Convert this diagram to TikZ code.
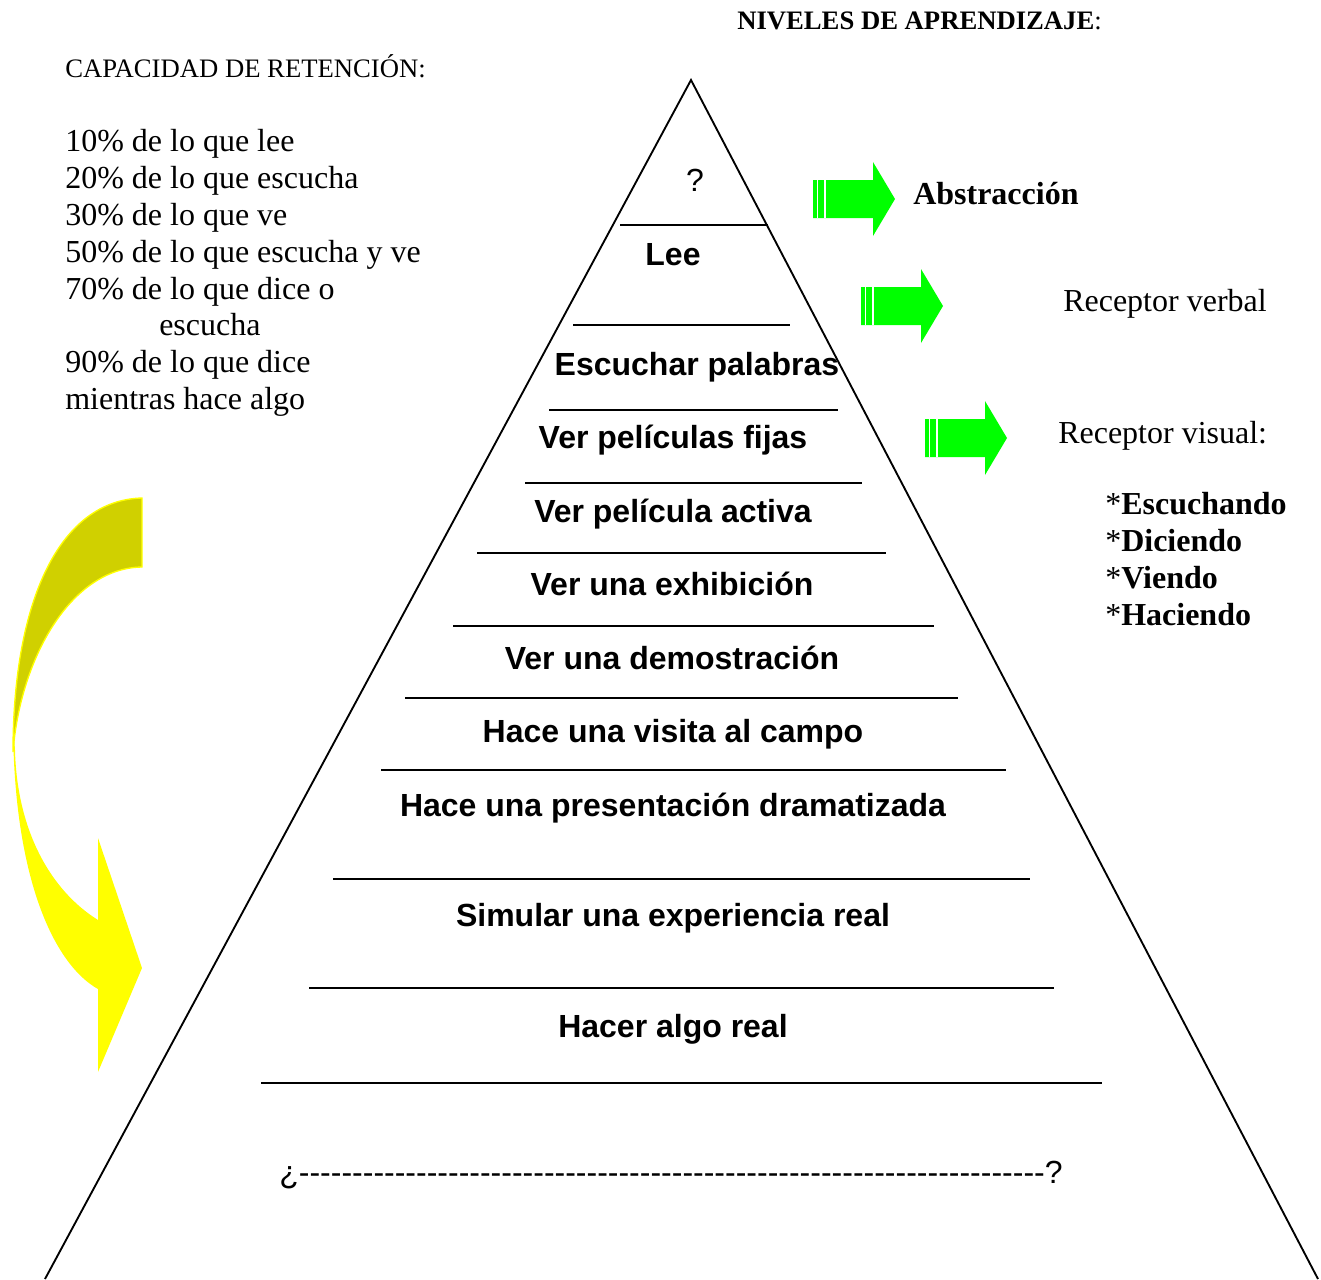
\documentclass[tikz,border=0pt]{standalone}
\usepackage{fontspec}
\setmainfont{Liberation Serif}
\newfontfamily\arialfont{Liberation Sans}
\definecolor{arrowgreen}{HTML}{00FF00}
\definecolor{curlyellow}{HTML}{FFFF00}
\definecolor{curlolive}{HTML}{D0D000}
\newcommand{\dashrow}{\foreach \k in {1,...,70}{\hbox{-}}}

\begin{document}
\begin{tikzpicture}[x=0.75pt, y=-0.75pt,
      lvl/.style={font=\arialfont\bfseries\fontsize{24}{28}\selectfont, anchor=base, inner sep=0pt},
      note/.style={font=\fontsize{24}{28}\selectfont, anchor=base west, inner sep=0pt},
      tier/.style={line width=1.4pt},
      greenarrow/.style={fill=arrowgreen, draw=none}]
    \useasboundingbox (0,0) rectangle (1321,1279);
    % pyramid
    \coordinate (apex) at (691,80);
    \coordinate (baseL) at (45,1279);
    \coordinate (baseR) at (1318,1279);
    \draw[tier] (baseL) -- (apex) -- (baseR);
    \foreach \y/\xa/\xb in {225/620/768, 325/573/790, 410/549/838, 483/525/862,
        553/477/886, 626/453/934, 698/405/958, 770/381/1006, 879/333/1030,
        988/309/1054, 1083/261/1102}
      \draw[tier] (\xa,\y) -- (\xb,\y);
    \node[lvl, font=\arialfont\fontsize{24}{28}\selectfont] (cima) at (695,191) {?};
    \node[lvl] (lee) at (673,265) {Lee};
    \node[lvl] (escuchar) at (697,375) {Escuchar palabras};
    \node[lvl] (fijas) at (673,448) {Ver películas fijas};
    \node[lvl] (activa) at (673,522) {Ver película activa};
    \node[lvl] (exhibicion) at (672,595) {Ver una exhibición};
    \node[lvl] (demostracion) at (672,669) {Ver una demostración};
    \node[lvl] (visita) at (673,742) {Hace una visita al campo};
    \node[lvl] (dramatizada) at (673,816) {Hace una presentación dramatizada};
    \node[lvl] (simular) at (673,926) {Simular una experiencia real};
    \node[lvl] (real) at (673,1037) {Hacer algo real};
    \node[lvl, font=\arialfont\fontsize{24}{28}\selectfont] (fondo) at (671,1183) {¿\dashrow?};
    % left column
    \node[note, font=\fontsize{20}{24}\selectfont] (capacidad) at (65,77) {CAPACIDAD DE RETENCIÓN:};
    \node[note] (ret10) at (65,151) {10\% de lo que lee};
    \node[note] (ret20) at (65,188) {20\% de lo que escucha};
    \node[note] (ret30) at (65,225) {30\% de lo que ve};
    \node[note] (ret50) at (65,262) {50\% de lo que escucha y ve};
    \node[note] (ret70) at (65,299) {70\% de lo que dice o};
    \node[note] (ret70b) at (159,335) {escucha};
    \node[note] (ret90) at (65,372) {90\% de lo que dice};
    \node[note] (ret90b) at (65,409) {mientras hace algo};
    % right column
    \node[note, font=\bfseries\fontsize{20}{24}\selectfont] (niveles) at (737,29) {NIVELES DE APRENDIZAJE\textmd{:}};
    \node[note, font=\bfseries\fontsize{24}{28}\selectfont] (abstraccion) at (913,204) {Abstracción};
    \node[note] (verbal) at (1063,311) {Receptor verbal};
    \node[note] (visual) at (1058,443) {Receptor visual:};
    \node[note] (escuchando) at (1105,514) {*\textbf{Escuchando}};
    \node[note] (diciendo) at (1105,551) {*\textbf{Diciendo}};
    \node[note] (viendo) at (1105,588) {*\textbf{Viendo}};
    \node[note] (haciendo) at (1105,625) {*\textbf{Haciendo}};
    % green arrows
    \foreach \x/\y in {813/199, 861/306, 925/438} {
      \fill[greenarrow] (\x,\y-19) -- ++(60,0) -- ++(0,-18) -- (\x+82,\y)
        -- (\x+60,\y+37) -- ++(0,-18) -- (\x,\y+19) -- cycle;
      \draw[white, line width=0.8pt] (\x+4.5,\y-19) -- (\x+4.5,\y+19)
        (\x+12,\y-19) -- (\x+12,\y+19);
    }
    % yellow curl
    \fill[curlyellow] (13,720) .. controls (13,880) and (55,965) .. (98,989)
      -- (98,1072) -- (142,968) -- (98,838) -- (98,920)
      .. controls (50,890) and (17,830) .. (15,750) -- cycle;
    \draw[fill=curlolive, draw=curlyellow, line width=1pt] (142,498)
      .. controls (60,500) and (13,600) .. (13,752)
      .. controls (20,660) and (70,568) .. (142,567) -- cycle;
  \end{tikzpicture}
\end{document}
